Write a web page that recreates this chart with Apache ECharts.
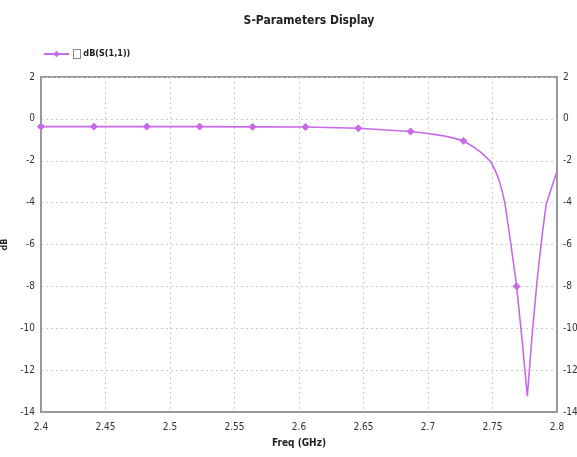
<!DOCTYPE html>
<html>
<head>
<meta charset="utf-8">
<script src="https://cdn.jsdelivr.net/npm/echarts@6/dist/echarts.min.js"></script>
<style>
  html, body { margin: 0; padding: 0; background: #fff; }
  #chart { width: 577px; height: 457px; }
</style>
</head>
<body>
<div id="chart"></div>
<script>
// S11 sweep
const freqGHz = [2.4, 2.441, 2.482, 2.523, 2.564, 2.605, 2.646, 2.6865, 2.7, 2.712,
  2.72, 2.7275, 2.735, 2.741, 2.7455, 2.7486, 2.752, 2.755, 2.7575, 2.7597,
  2.7643, 2.7687, 2.773, 2.777, 2.7805, 2.7842, 2.7862, 2.789, 2.7917, 2.796, 2.8]
const s11dB = [-0.37, -0.37, -0.37, -0.37, -0.38, -0.39, -0.45, -0.6, -0.7, -0.81,
  -0.92, -1.05, -1.33, -1.6, -1.85, -2.05, -2.45, -2.9, -3.45, -4.05,
  -6.0, -8.0, -10.6, -13.25, -10.5, -7.96, -6.8, -5.3, -4.05, -3.25, -2.5]
// points that carry a marker in the original display
const markerFreqs = [2.4, 2.441, 2.482, 2.523, 2.564, 2.605, 2.646, 2.6865, 2.7275, 2.7687]

const xTicks = [2.4, 2.45, 2.5, 2.55, 2.6, 2.65, 2.7, 2.75, 2.8]
const yTicks = [2, 0, -2, -4, -6, -8, -10, -12, -14]

const lineColor = '#c86ae8'
const labelFont = '"DejaVu Sans Condensed", "Liberation Sans Narrow", "Liberation Sans", sans-serif'

const chart = echarts.init(document.getElementById('chart'))

const seriesData = freqGHz.map((f, i) => {
  const marked = markerFreqs.includes(f)
  return {
    value: [f, s11dB[i]],
    symbol: marked ? 'diamond' : 'none',
    symbolSize: marked ? 7 : 0
  }
})

const yAxisCommon = {
  type: 'value',
  min: -14,
  max: 2,
  interval: 2,
  axisLine: { show: true, onZero: false, lineStyle: { color: '#999', width: 2 } },
  axisTick: { show: false },
  axisLabel: {
    color: '#333', fontSize: 10, fontFamily: labelFont, margin: 6,
    formatter: v => yTicks.includes(v) ? String(v) : ''
  }
}

chart.setOption({
  animation: false,
  title: {
    text: 'S-Parameters Display',
    left: 304,
    top: 10,
    textAlign: 'center',
    textStyle: { fontSize: 12, fontWeight: 'bold', color: '#222', fontFamily: labelFont }
  },
  legend: {
    left: 38,
    top: 43,
    itemWidth: 25,
    itemHeight: 8,
    data: ['dB(S(1,1))'],
    formatter: name => '{box|}' + ' {n|' + name + '}',
    textStyle: {
      rich: {
        box: { width: 6, height: 8, borderColor: '#888', borderWidth: 1, backgroundColor: '#fff' },
        n: { fontSize: 9, fontWeight: 'bold', color: '#222', fontFamily: labelFont }
      }
    }
  },
  grid: {
    left: 41, right: 20, top: 77, bottom: 45,
    outerBoundsMode: 'none', containLabel: false,
    show: true, borderColor: '#999', borderWidth: 2
  },
  xAxis: {
    type: 'value',
    min: 2.4,
    max: 2.8,
    interval: 0.05,
    name: 'Freq (GHz)',
    nameLocation: 'middle',
    nameGap: 26,
    nameTextStyle: { fontSize: 10, fontWeight: 'bold', color: '#222', fontFamily: labelFont },
    axisLine: { show: true, onZero: false, lineStyle: { color: '#999', width: 2 } },
    axisTick: { show: false },
    splitLine: { show: true, lineStyle: { color: '#ccc', type: [2, 3], width: 1 } },
    axisLabel: {
      color: '#333', fontSize: 10, fontFamily: labelFont, margin: 10,
      formatter: v => {
        const t = xTicks.find(x => Math.abs(x - v) < 1e-6)
        return t === undefined ? '' : String(t)
      }
    }
  },
  yAxis: [
    Object.assign({}, yAxisCommon, {
      position: 'left',
      name: 'dB',
      nameLocation: 'middle',
      nameRotate: 90,
      nameGap: 24,
      nameTextStyle: { fontSize: 9, fontWeight: 'bold', color: '#222', fontFamily: labelFont },
      splitLine: { show: true, lineStyle: { color: '#ccc', type: [2, 3], width: 1 } }
    }),
    Object.assign({}, yAxisCommon, {
      position: 'right',
      splitLine: { show: false }
    })
  ],
  series: [{
    name: 'dB(S(1,1))',
    type: 'line',
    yAxisIndex: 0,
    symbol: 'diamond',
    symbolSize: 7,
    showAllSymbol: true,
    smooth: false,
    lineStyle: { color: lineColor, width: 1.6 },
    itemStyle: { color: lineColor, borderColor: lineColor },
    data: seriesData
  }]
})
</script>
</body>
</html>
